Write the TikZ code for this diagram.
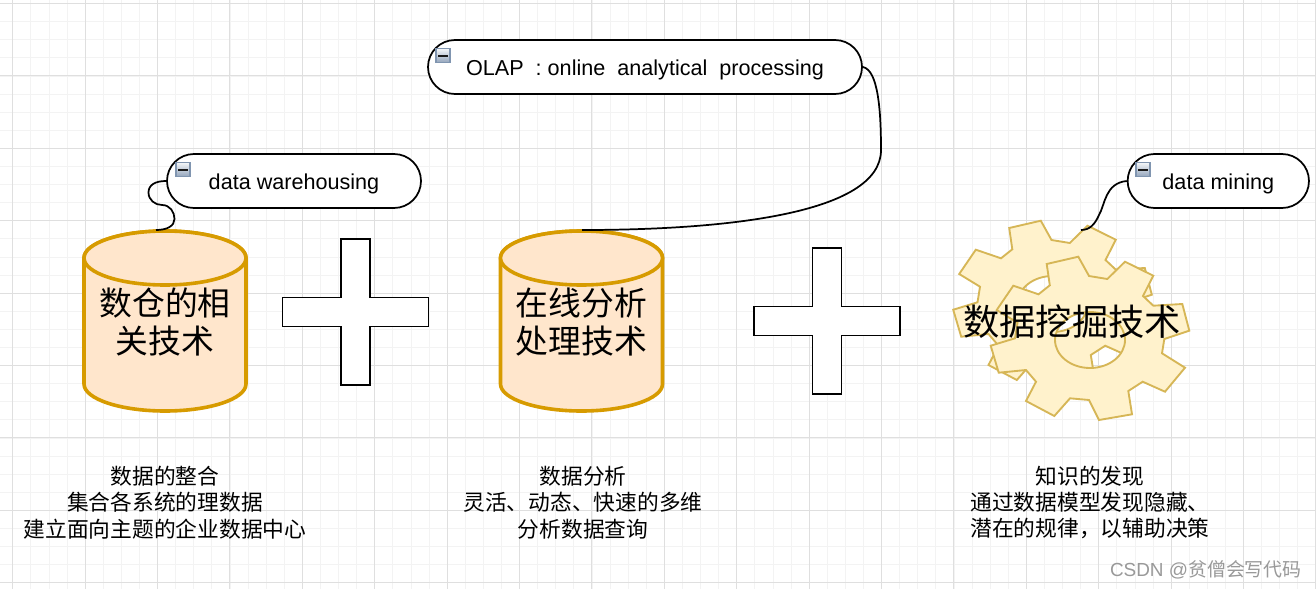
\documentclass[tikz,border=0pt]{standalone}
\usepackage{fontspec}
\setmainfont{Liberation Sans}
\newfontfamily\cjk{Noto Sans CJK SC}
\usetikzlibrary{shadings}
\definecolor{gridmajor}{HTML}{DFDFDF}
\definecolor{gridminor}{HTML}{F3F3F3}
\definecolor{cylstroke}{HTML}{D79B00}
\definecolor{cylfill}{HTML}{FFE6CC}
\definecolor{gearstroke}{HTML}{D6B656}
\definecolor{gearfill}{HTML}{FFF2CC}
\definecolor{iconedge}{HTML}{8095B0}
\tikzset{
  topicbox/.style={draw=black,fill=white,line width=1.3pt,rounded corners=20.25pt,minimum height=40.5pt,inner sep=0pt,text height=14pt,text depth=1.6pt,font=\fontsize{16.2}{19}\selectfont},
  iconbox/.style={draw=iconedge,line width=1pt,top color=white!92!iconedge,bottom color=iconedge!85!white,minimum size=10.5pt,inner sep=0pt},
  iconbar/.style={draw=black!90,line width=1.5pt},
  linkline/.style={draw=black,line width=1.3pt},
  cylshape/.style={draw=cylstroke,fill=cylfill,line width=2.7pt},
  cyltext/.style={inner sep=0pt,align=center,font=\cjk\fontsize{24.6}{28.5}\selectfont},
  geartext/.style={inner sep=0pt,font=\cjk\fontsize{27.2}{32}\selectfont},
  captiontext/.style={inner sep=0pt,align=center,font=\cjk\fontsize{16.3}{19.8}\selectfont},
  plusshape/.style={draw=black,fill=white,line width=1.3pt,line join=miter},
  gearshape/.style={draw=gearstroke,fill=gearfill,line width=1.4pt,even odd rule,line join=miter},
}
\newcommand{\gearpath}{(1046.7,264) -- (1078.3,256.7) -- (1089,276) -- (1107.3,279) -- (1125,261.7) -- (1153.3,275.7) -- (1143,296) -- (1153.3,305.7) -- (1182.3,304) -- (1189.3,330.7) -- (1164.3,339) -- (1162,353.3) -- (1185,367.7) -- (1165,391.7) -- (1142.7,381.7) -- (1128.3,391) -- (1132,414.3) -- (1099,420) -- (1089,400) -- (1070,398.3) -- (1054.3,416) -- (1026,401) -- (1036,381.7) -- (1026,370) -- (998.7,372.7) -- (990.7,345.7) -- (1015,338.3) -- (1017.5,322.7) -- (996.7,310) -- (1013.3,285.7) -- (1038.5,294.3) -- (1049.8,285.3) -- cycle (1090,340) ellipse [x radius=35,y radius=28]}
\newcommand{\cylpath}[1]{%
  \path[cylshape] (#1-81,258) -- (#1-81,384) arc[start angle=180,end angle=0,x radius=81,y radius=27] -- (#1+81,258) arc[start angle=0,end angle=-180,x radius=81,y radius=27] -- cycle;
  \path[cylshape] (#1,258) ellipse [x radius=81,y radius=27];
}
\newcommand{\pluspath}[2]{%
  \path[plusshape] (#1-14.5,#2-73) -- (#1+14.5,#2-73) -- (#1+14.5,#2-14.5) -- (#1+73,#2-14.5) -- (#1+73,#2+14.5) -- (#1+14.5,#2+14.5) -- (#1+14.5,#2+73) -- (#1-14.5,#2+73) -- (#1-14.5,#2+14.5) -- (#1-73,#2+14.5) -- (#1-73,#2-14.5) -- (#1-14.5,#2-14.5) -- cycle;
}
\begin{document}
\begin{tikzpicture}[x=.75pt,y=-.75pt]
\useasboundingbox (0,0) rectangle (1316,589);
\fill[white] (0,0) rectangle (1316,589);
% grid
\foreach \k in {0,...,72} {\draw[gridminor,line width=.6pt] ({12.7+18.1*\k},0) -- ({12.7+18.1*\k},589);}
\foreach \k in {0,...,32} {\draw[gridminor,line width=.6pt] (0,{3.5+18.1*\k}) -- (1316,{3.5+18.1*\k});}
\foreach \k in {0,...,18} {\draw[gridmajor,line width=.7pt] ({12.7+72.4*\k},0) -- ({12.7+72.4*\k},589);}
\foreach \k in {0,...,8} {\draw[gridmajor,line width=.7pt] (0,{3.5+72.4*\k}) -- (1316,{3.5+72.4*\k});}
% cylinders
\cylpath{165}
\cylpath{581.5}
\node[cyltext] (cylone) at (165,322) {数仓的相\\关技术};
\node[cyltext] (cyltwo) at (581.5,322) {在线分析\\处理技术};
\coordinate (cylonetop) at (156,230);
\coordinate (cyltwotop) at (582,230);
% plus signs
\pluspath{355.5}{312}
\pluspath{827}{321}
% gears
\begin{scope}[shift={(-37.5,-36)}]
\path[gearshape] \gearpath;
\end{scope}
\path[gearshape] \gearpath;
\node[geartext] (geartitle) at (1072,322) {数据挖掘技术};
\coordinate (geartop) at (1081,230);
% topics
\node[topicbox,minimum width=190.5pt] (dw) at (294,181) {data warehousing};
\node[topicbox,minimum width=325.5pt] (olap) at (645,67) {OLAP\ \ : online\ \ analytical\ \ processing};
\node[topicbox,minimum width=136pt] (dm) at (1218.3,181) {data mining};
% connectors
\draw[linkline] (dw.west) .. controls (155,181) and (148.5,185) .. (148.5,192.5) .. controls (148.5,200) and (155,205) .. (162,205) .. controls (170,205) and (174.5,212) .. (174.5,219) .. controls (174.5,226) and (167,230) .. (cylonetop);
\draw[linkline] (olap.east) .. controls (878,70) and (881,110) .. (881,150) .. controls (881,215) and (720,230) .. (cyltwotop);
\draw[linkline] (dm.west) .. controls (1105,183) and (1105,205) .. (1099,215) .. controls (1095,224) and (1090,230) .. (geartop);
% icons
\node[iconbox] (icona) at (183,169.5) {};
\draw[iconbar] ([xshift=-3.7pt]icona.center) -- ([xshift=3.7pt]icona.center);
\node[iconbox] (iconb) at (443,55.5) {};
\draw[iconbar] ([xshift=-3.7pt]iconb.center) -- ([xshift=3.7pt]iconb.center);
\node[iconbox] (iconc) at (1143,169.5) {};
\draw[iconbar] ([xshift=-3.7pt]iconc.center) -- ([xshift=3.7pt]iconc.center);
% captions
\node[captiontext] (capa) at (165,502.5) {数据的整合\\集合各系统的理数据\\建立面向主题的企业数据中心};
\node[captiontext] (capb) at (583,502.5) {数据分析\\灵活、动态、快速的多维\\分析数据查询};
\node[captiontext] (capc) at (1090,502.5) {知识的发现\\通过数据模型发现隐藏、\\潜在的规律，以辅助决策};
% watermark
\node[inner sep=0pt,anchor=east,text=black!40,font=\fontsize{14.2}{17}\selectfont] (mark) at (1302,569.5) {CSDN @{\cjk 贫僧会写代码}};
\end{tikzpicture}
\end{document}
